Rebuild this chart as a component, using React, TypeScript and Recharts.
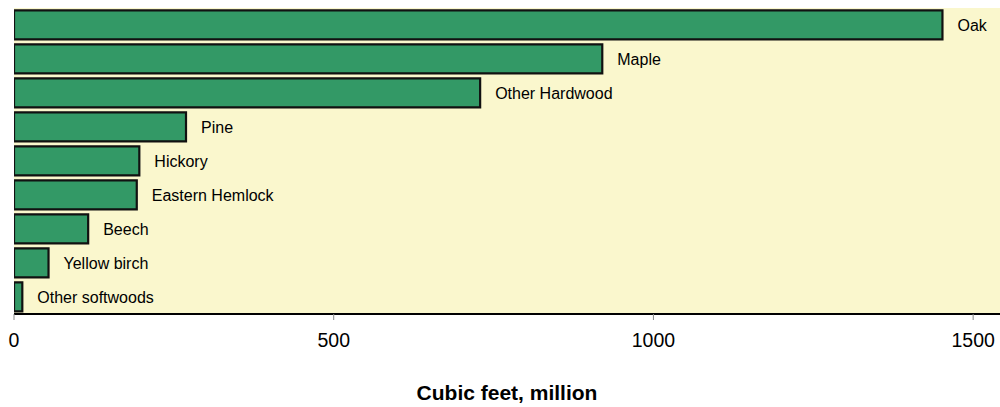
import React from "react";
import { BarChart, Bar, XAxis, YAxis, CartesianGrid, LabelList } from "recharts";

const categories = ["Oak", "Maple", "Other Hardwood", "Pine", "Hickory", "Eastern Hemlock", "Beech", "Yellow birch", "Other softwoods"];
const volumes = [1452, 920, 729, 269, 196, 192, 116, 54, 13];
const xTicks = [0, 500, 1000, 1500];

const data = categories.map((name, i) => ({ name, value: volumes[i] }));

export default function App() {
  return (
    <div style={{ position: "absolute", left: 0, top: 0 }}>
      <BarChart
        width={1000}
        height={407}
        data={data}
        layout="vertical"
        margin={{ top: 8, right: 0, left: 14, bottom: 0 }}
        barCategoryGap="7%"
      >
        <CartesianGrid fill="#FAF7CD" stroke="none" horizontal={false} vertical={false} />
        <XAxis
          type="number"
          domain={[0, 1542]}
          ticks={xTicks}
          allowDataOverflow
          height={93}
          tickSize={6}
          tickMargin={13}
          axisLine={{ stroke: "#000", strokeWidth: 2 }}
          tickLine={{ stroke: "#888" }}
          tick={{ fill: "#000", fontSize: 19.5, fontFamily: "Liberation Sans, Arial, sans-serif" }}
          label={{
            value: "Cubic feet, million",
            position: "insideBottom",
            offset: 7,
            fill: "#000",
            fontSize: 21,
            fontWeight: "bold",
            fontFamily: "Liberation Sans, Arial, sans-serif",
          }}
        />
        <XAxis
          xAxisId="top"
          orientation="top"
          type="number"
          domain={[0, 1542]}
          height={0}
          tick={false}
          tickLine={false}
          axisLine={{ stroke: "#333", strokeWidth: 2 }}
        />
        <YAxis
          type="category"
          dataKey="name"
          width={0}
          tick={false}
          tickLine={false}
          axisLine={{ stroke: "#000", strokeWidth: 2 }}
        />
        <Bar dataKey="value" fill="#339966" stroke="#111" strokeWidth={2.2} isAnimationActive={false}>
          <LabelList
            dataKey="name"
            position="right"
            offset={15}
            fill="#000"
            fontSize={16}
            fontFamily="Liberation Sans, Arial, sans-serif"
          />
        </Bar>
      </BarChart>
    </div>
  );
}
